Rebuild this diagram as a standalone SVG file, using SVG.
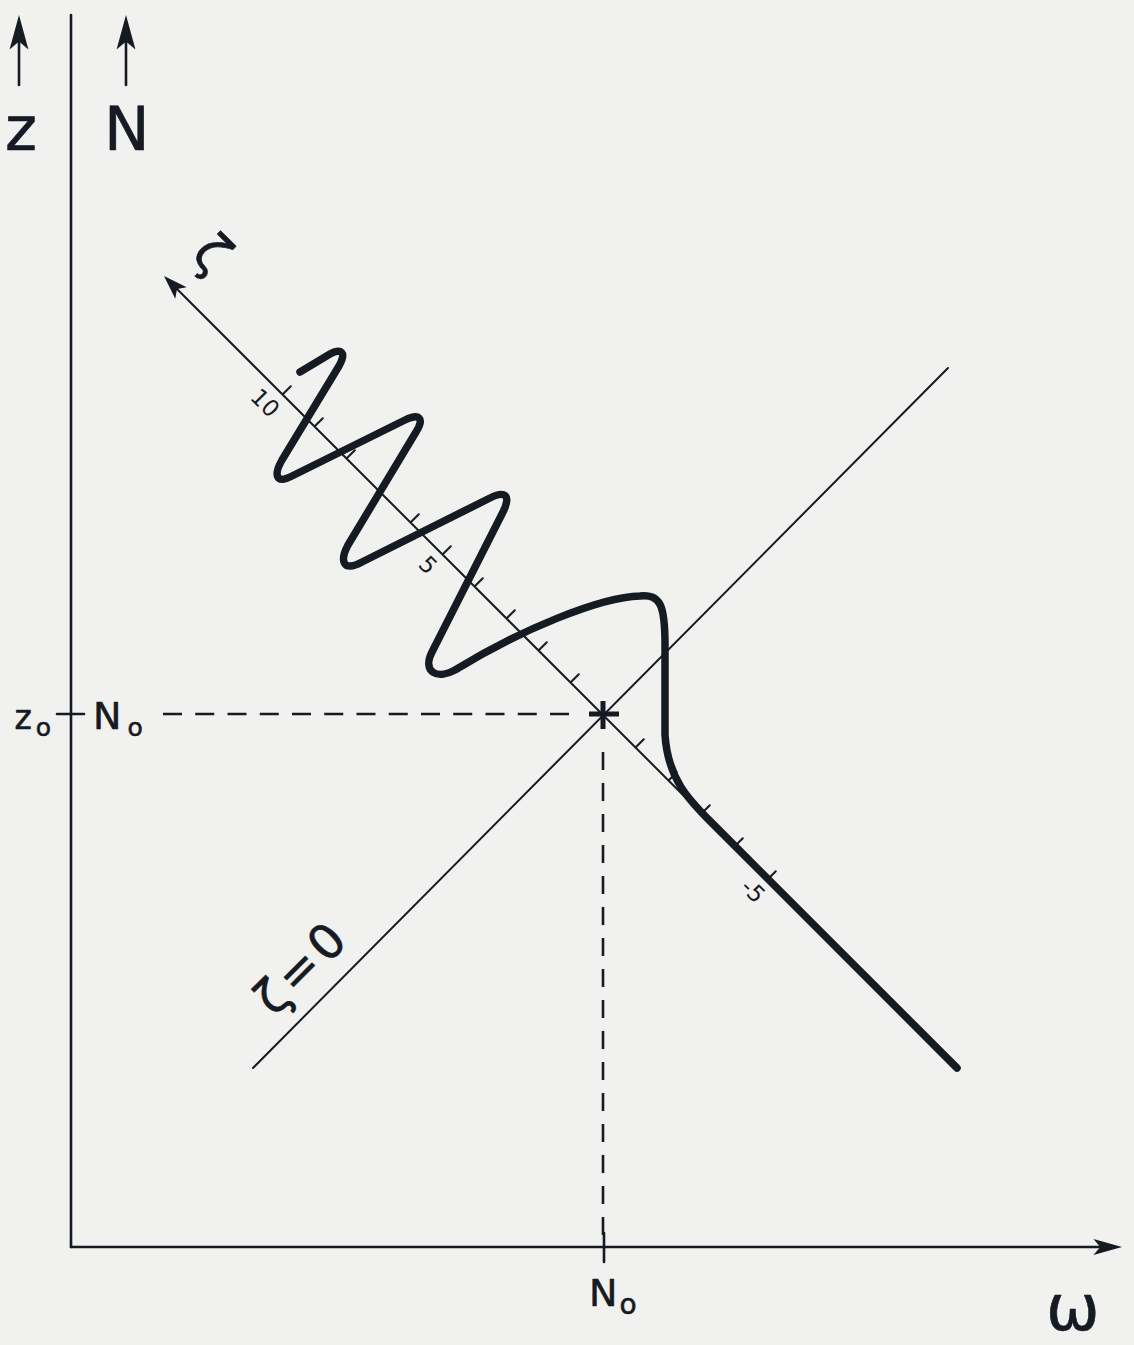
<svg xmlns="http://www.w3.org/2000/svg" width="1134" height="1345" viewBox="0 0 1134 1345">
<style>
.ln{stroke:#161a22;fill:none;stroke-linecap:round}
.thin{stroke-width:2}
.ax{stroke-width:2.6}
.tick{stroke-width:2}
.dash{stroke-width:2.6;stroke-linecap:butt}
.cross{stroke-width:5;stroke-linecap:butt}
.curve{stroke:#161a22;fill:none;stroke-width:7.5;stroke-linejoin:round;stroke-linecap:round}
.ah{fill:#161a22}
text{font-family:"DejaVu Sans","Liberation Sans",sans-serif;fill:#161a22}
.hv{stroke:#161a22;stroke-width:0.6;stroke-linejoin:round}
</style>
<defs>
<path id="ah" class="ah" d="M0,0 L-30,-9 L-23,0 L-30,9 Z"/>
</defs>
<rect width="1134" height="1345" fill="#f1f1ef"/>

<g id="axes">
<line class="ln ax" x1="71" y1="15" x2="71" y2="1247"/>
<line class="ln ax" x1="71" y1="1247" x2="1105" y2="1247"/>
<use href="#ah" transform="translate(1122,1247) scale(0.95,0.9)"/>
<line class="ln ax" x1="19" y1="40" x2="19" y2="85"/>
<use href="#ah" transform="translate(19,15) rotate(-90) scale(1.15,1.05)"/>
<line class="ln ax" x1="126" y1="40" x2="126" y2="85"/>
<use href="#ah" transform="translate(126,15) rotate(-90) scale(1.15,1.05)"/>
<line class="ln ax" x1="57" y1="714" x2="84" y2="714"/>
<line class="ln ax" x1="604" y1="1233" x2="604" y2="1262"/>
</g>

<g id="zeta-zero-line">
<line class="ln thin" x1="253" y1="1068" x2="948" y2="368"/>
</g>

<g id="zeta-axis">
<line class="ln thin" x1="172" y1="284" x2="957" y2="1069"/>
<use href="#ah" transform="translate(164,276) rotate(-135) scale(0.8,0.9)"/>
<g class="ln tick">
<line x1="571" y1="682" x2="578.8" y2="674.2"/>
<line x1="539" y1="650" x2="546.8" y2="642.2"/>
<line x1="507" y1="618" x2="514.8" y2="610.2"/>
<line x1="475" y1="586" x2="482.8" y2="578.2"/>
<line x1="443" y1="554" x2="450.8" y2="546.2"/>
<line x1="411" y1="522" x2="418.8" y2="514.2"/>
<line x1="379" y1="490" x2="386.8" y2="482.2"/>
<line x1="347" y1="458" x2="354.8" y2="450.2"/>
<line x1="315" y1="426" x2="322.8" y2="418.2"/>
<line x1="283" y1="394" x2="290.8" y2="386.2"/>
<line x1="636" y1="747" x2="643.8" y2="739.2"/>
<line x1="669" y1="780" x2="676.8" y2="772.2"/>
<line x1="702" y1="813" x2="709.8" y2="805.2"/>
<line x1="735" y1="846" x2="742.8" y2="838.2"/>
<line x1="768" y1="879" x2="775.8" y2="871.2"/>
</g>
</g>

<g id="reference-point">
<line class="ln dash" x1="163" y1="714" x2="570" y2="714" stroke-dasharray="19 13.25"/>
<line class="ln dash" x1="603" y1="752" x2="603" y2="1236" stroke-dasharray="18 13"/>
<line class="ln cross" x1="589" y1="714" x2="619" y2="714"/>
<line class="ln cross" x1="603" y1="701" x2="603" y2="729"/>
</g>

<g id="curve">
<path class="curve" d="M957,1068 L712,823 C690,801 668,780 665,735 L665,645 C665,606 661,594 640,596 C600,597 520,630 455,670 C437,680 422,672 432,652 L503,512 C512,494 504,491 490,498 L362,562 C342,573 340,560 348,545 L416,432 C425,418 419,413 405,420 L292,476 C275,485 274,474 282,460 L339,366 C347,352 341,348 330,354 L300,372"/>
</g>

<g id="labels">
<text class="hv" x="5" y="150" font-size="61">z</text>
<text class="hv" x="104" y="150" font-size="61">N</text>
<text class="hv" x="14.5" y="729" font-size="33">z<tspan font-size="25" dx="4" dy="7">o</tspan></text>
<text class="hv" x="93" y="729" font-size="38">N<tspan font-size="25" dx="6" dy="7">o</tspan></text>
<text class="hv" x="589" y="1306" font-size="38">N<tspan font-size="28" dx="2" dy="8">o</tspan></text>
<text class="hv" x="1046" y="1330" font-size="64">ω</text>
<text class="hv" transform="translate(200,266) rotate(45)" font-size="52" text-anchor="middle">ζ</text>
<text class="hv" transform="translate(310,982) rotate(-45)" font-size="48" text-anchor="middle" x="-37 0 40">ζ=0</text>
<text transform="translate(259.4,408.6) rotate(45)" font-size="23" text-anchor="middle">10</text>
<text transform="translate(422.4,570.6) rotate(45)" font-size="23" text-anchor="middle">5</text>
<text transform="translate(747.4,896.6) rotate(45)" font-size="23" text-anchor="middle">-5</text>
</g>
</svg>
